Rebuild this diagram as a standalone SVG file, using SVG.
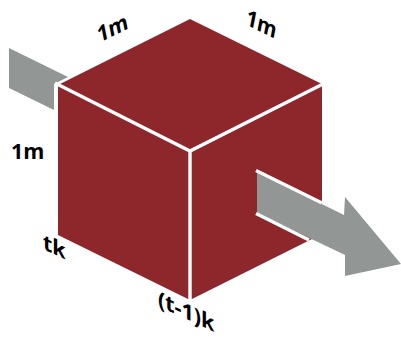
<svg xmlns="http://www.w3.org/2000/svg" width="401" height="339" viewBox="0 0 401 339">
<style>
.face{fill:#8e272b}
.grey{fill:#929796}
.w{fill:none;stroke:#fff;stroke-width:3.4}
.t{font-family:"Open Sans","Noto Sans",sans-serif;font-weight:700;font-size:21.500px;fill:#000}
</style>
<rect width="401" height="339" fill="#fff"/>
<g id="inlet-arrow"><polygon class="grey" points="9,48 68,77 54,84 54,110 9,88"/></g>
<g id="cube">
<polygon class="face" points="190,19 322,84 322,234 190,300 58,235 58,85"/>
<path class="w" d="M55,83 L190,151 L322,84.500 M190,151 V300"/>
</g>
<g id="outlet-arrow">
<polygon class="grey" points="257,172 344,215 345,197 401,264 345,276 345,255 257,213"/>
<path class="w" d="M256,170.500 L322,203 M256,213.500 L309,240"/>
</g>
<g id="labels">
<text class="t" transform="matrix(.9,-.44,.2,1,99,43)">1m</text>
<text class="t" transform="matrix(.9,.44,-.2,1,245,24)">1m</text>
<text class="t" x="11" y="159">1m</text>
<text class="t" transform="matrix(1,.46,0,1,43,249)">tk</text>
<text class="t" transform="matrix(1,.46,0,1,158,306)">(t-1)k</text>
</g>
</svg>
